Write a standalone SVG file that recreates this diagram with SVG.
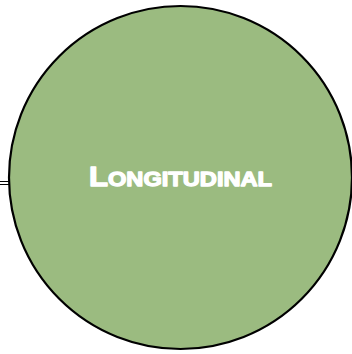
<svg xmlns="http://www.w3.org/2000/svg" width="352" height="354" viewBox="0 0 352 354">
<style>
.node{fill:#9BBB80;stroke:#000;stroke-width:2.2}
.conn{stroke:#000;stroke-width:1;fill:none}
.lbl{font-family:"Liberation Sans",Arial,sans-serif;font-weight:bold;fill:#fff;stroke:#fff;stroke-width:1.3;stroke-linejoin:round}
</style>
<rect width="352" height="354" fill="#fff"/>
<g id="connectors">
<line class="conn" x1="0" y1="181.5" x2="10" y2="181.5"/>
<line class="conn" x1="0" y1="184.5" x2="10" y2="184.5"/>
</g>
<g id="longitudinal">
<circle class="node" cx="180.5" cy="177.5" r="171.5"/>
<text class="lbl" x="89" y="185.5" textLength="183" lengthAdjust="spacingAndGlyphs"><tspan font-size="27">L</tspan><tspan font-size="20.5">ONGITUDINAL</tspan></text>
</g>
</svg>
